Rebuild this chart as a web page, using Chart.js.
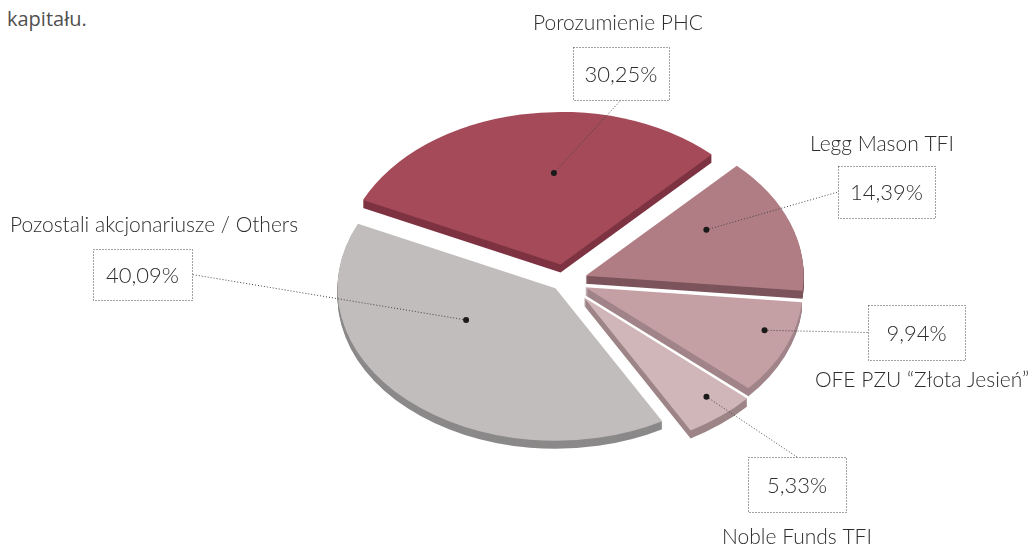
<!DOCTYPE html>
<html>
<head>
<meta charset="utf-8">
<script src="https://cdn.jsdelivr.net/npm/chart.js@4.4.1/dist/chart.umd.min.js"></script>
<style>
  html, body { margin: 0; padding: 0; background: #fff; }
  #wrap { position: relative; width: 1033px; height: 546px; overflow: hidden; }
  .note { position: absolute; left: 7px; top: 5px; font: 400 20px "Open Sans", sans-serif; color: #505050; }
  canvas { position: absolute; left: 0; top: 0; }
</style>
</head>
<body>
<div id="wrap">
  <div class="note">kapitału.</div>
  <canvas id="pie" width="1033" height="546"></canvas>
</div>
<script>
// dane
const shareholders = ['Porozumienie PHC', 'Legg Mason TFI', 'OFE PZU \u201CZłota Jesień\u201D', 'Noble Funds TFI', 'Pozostali akcjonariusze / Others'];
const shares = [30.25, 14.39, 9.94, 5.33, 40.09];
const shareText = ['30,25%', '14,39%', '9,94%', '5,33%', '40,09%'];

// kolory: wierzch i bok plastra
const topColors = ['#a44a58', '#b07d84', '#c4a0a4', '#d0b6b9', '#c1bdbc'];
const sideColors = ['#7e3342', '#7c545b', '#a1848a', '#9d8587', '#8b8989'];
// wysunięcie plastrów (px, przed spłaszczeniem)
const explode = [24, 22, 22, 30, 14];

// rozmieszczenie opisów (x, y, szer, wys, strona podpięcia linii)
const boxes = [[573, 47, 96, 53, 'bottom'], [838, 166, 97, 52, 'left'], [868, 305, 97, 55, 'left'], [748, 457, 98, 55, 'top'], [93, 249, 99, 51, 'right']];
const namePos = [[618, 23], [882, 144], [922, 380], [797, 537], [154, 225]];
// kropka: ułamek kąta plastra, ułamek promienia
const dotAt = [[0.57, 0.6], [0.34, 0.63], [0.37, 0.87], [0.4, 0.86], [0.64, 0.46]];

const K = 0.7;      // spłaszczenie (perspektywa)
const DEPTH = 8;    // grubość tortu

function squish(ctx, chart) {
  const a = chart.chartArea;
  const cy = (a.top + a.bottom) / 2;
  ctx.translate(0, cy);
  ctx.scale(1, K);
  ctx.translate(0, -cy);
}

function shift(arc, i) {
  const mid = (arc.startAngle + arc.endAngle) / 2;
  return [Math.cos(mid) * explode[i], Math.sin(mid) * explode[i]];
}

const pie3d = {
  id: 'pie3d',
  beforeDatasetsDraw(chart) {
    const ctx = chart.ctx;
    const arcs = chart.getDatasetMeta(0).data;
    // boki plastrów
    arcs.forEach((arc, i) => {
      const fake = Object.create(arc);
      fake.options = Object.assign({}, arc.options, { backgroundColor: sideColors[i], borderColor: sideColors[i] });
      const [sx, sy] = shift(arc, i);
      for (let d = DEPTH; d > 0; d--) {
        ctx.save();
        ctx.translate(0, d);
        squish(ctx, chart);
        ctx.translate(sx, sy);
        arc.draw.call(fake, ctx);
        ctx.restore();
      }
    });
    // wierzch
    arcs.forEach((arc, i) => {
      const [sx, sy] = shift(arc, i);
      ctx.save();
      squish(ctx, chart);
      ctx.translate(sx, sy);
      arc.draw(ctx);
      ctx.restore();
    });
    drawLabels(chart);
    return false;
  }
};

function drawLabels(chart) {
  const ctx = chart.ctx;
  const a = chart.chartArea;
  const cy = (a.top + a.bottom) / 2;
  const arcs = chart.getDatasetMeta(0).data;

  arcs.forEach((arc, i) => {
    const [sx, sy] = shift(arc, i);
    const ang = arc.startAngle + (arc.endAngle - arc.startAngle) * dotAt[i][0];
    const r = arc.outerRadius * dotAt[i][1];
    const dx = arc.x + sx + Math.cos(ang) * r;
    const dyU = arc.y + sy + Math.sin(ang) * r;
    const dy = cy + (dyU - cy) * K;

    const [bx, by, bw, bh, side] = boxes[i];
    let ex = bx + bw / 2, ey = by + bh / 2;
    if (side === 'bottom') ey = by + bh;
    if (side === 'top') ey = by;
    if (side === 'left') ex = bx;
    if (side === 'right') ex = bx + bw;

    ctx.save();
    ctx.strokeStyle = '#444';
    ctx.lineWidth = 1;
    ctx.setLineDash([1, 2]);
    ctx.beginPath();
    ctx.moveTo(dx, dy);
    ctx.lineTo(ex, ey);
    ctx.stroke();
    ctx.strokeRect(bx + 0.5, by + 0.5, bw, bh);
    ctx.setLineDash([]);
    ctx.fillStyle = '#1a1a1a';
    ctx.beginPath();
    ctx.arc(dx, dy, 3, 0, Math.PI * 2);
    ctx.fill();

    ctx.fillStyle = '#2e2e2e';
    ctx.textAlign = 'center';
    ctx.textBaseline = 'middle';
    ctx.font = '300 22px Lato, sans-serif';
    ctx.fillText(shareText[i], bx + bw / 2, by + bh / 2 + 1);
    ctx.font = '300 21px Lato, sans-serif';
    ctx.fillText(shareholders[i], namePos[i][0], namePos[i][1]);
    ctx.restore();
  });
}

new Chart(document.getElementById('pie').getContext('2d'), {
  type: 'pie',
  data: {
    labels: shareholders,
    datasets: [{
      data: shares,
      backgroundColor: topColors,
      borderWidth: 0
    }]
  },
  options: {
    responsive: false,
    animation: false,
    rotation: -65,
    layout: { padding: { left: 347, right: 250, top: 63, bottom: 47 } },
    plugins: { legend: { display: false }, tooltip: { enabled: false } }
  },
  plugins: [pie3d]
});
</script>
</body>
</html>
